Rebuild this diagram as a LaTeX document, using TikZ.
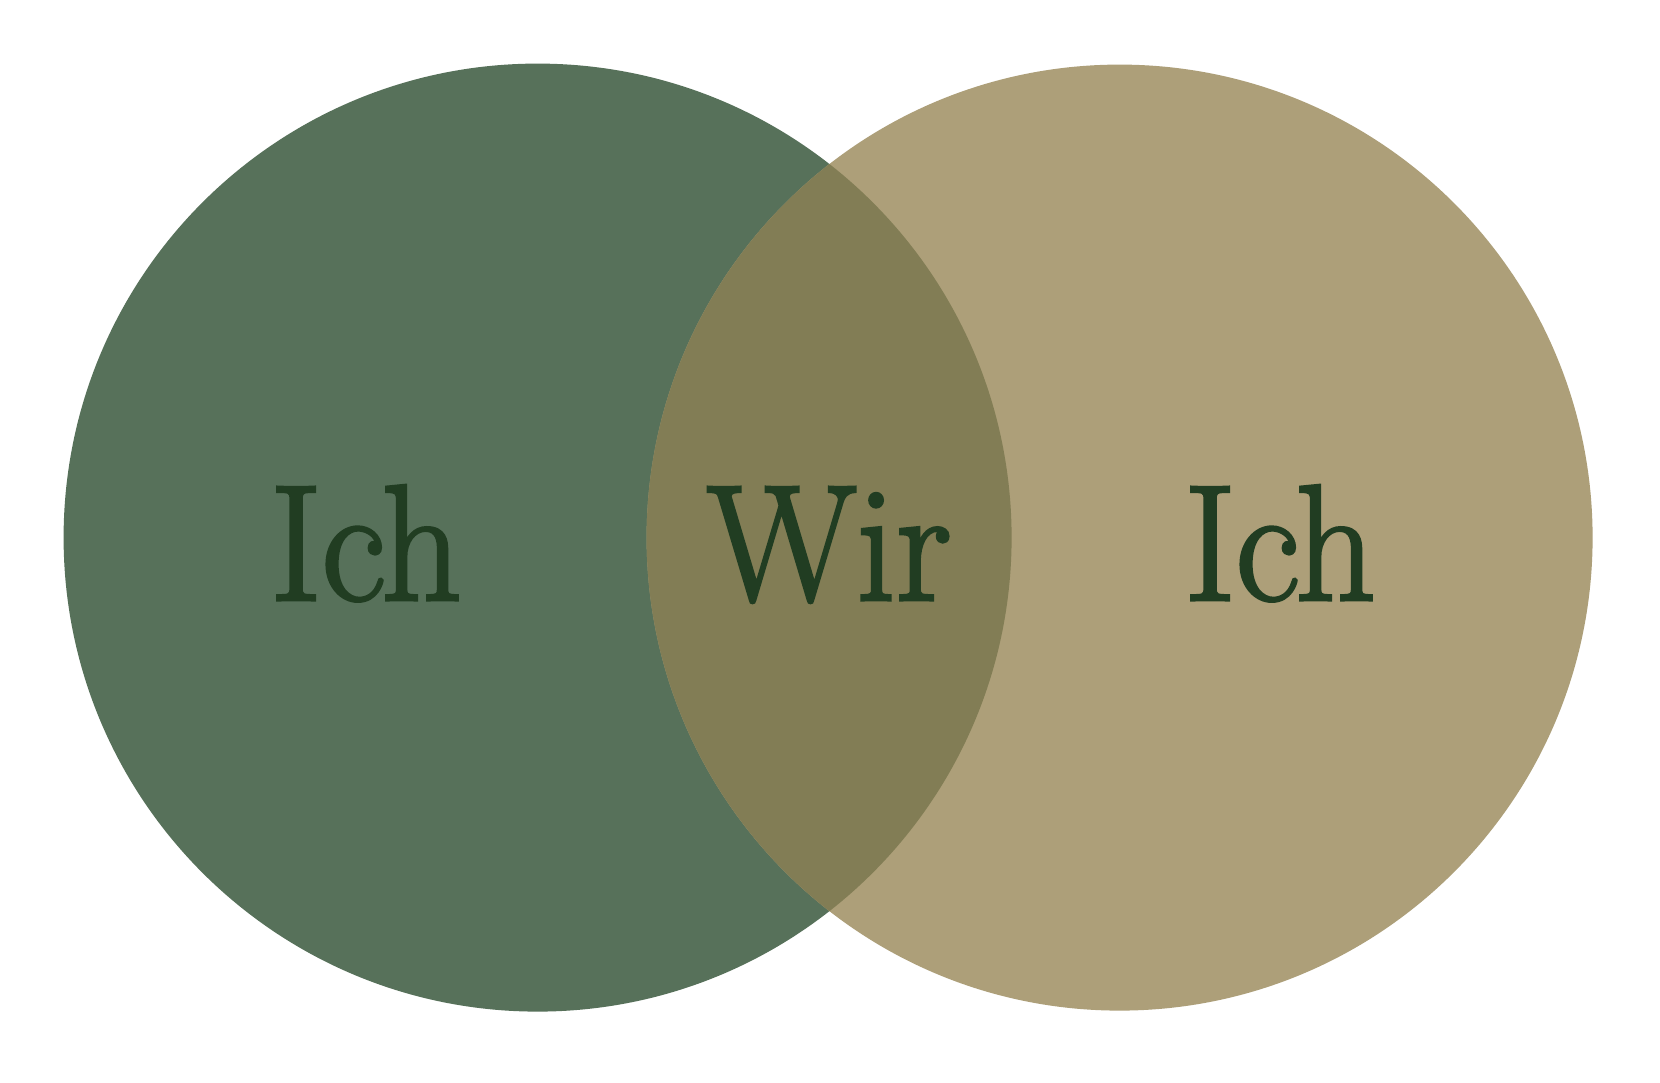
\documentclass[tikz,border=0pt]{standalone}
\usepackage{fontspec}
\newfontfamily\wordfont{lmroman17-regular.otf}[FakeBold=2]
\definecolor{ichgreen}{HTML}{57715A}
\definecolor{ichtan}{HTML}{AD9F79}
\definecolor{wirolive}{HTML}{827D55}
\definecolor{wordgreen}{HTML}{213D22}
\tikzset{word/.style={text=wordgreen, anchor=base, inner sep=0pt, xscale=0.95, transform shape, font=\wordfont\fontsize{47}{47}\selectfont}}
\begin{document}
\begin{tikzpicture}
			%%%%% START %%%%%
			
			\useasboundingbox[fill=white] (0, 0) rectangle (16.6, 10.82);
			
			\draw[fill=ichgreen, draw=none] (5.376, 5.444) circle (4.74);
			\draw[fill=ichtan, draw=none] (11.196, 5.444) circle (4.73);
			
			\begin{scope}
				\clip (5.376, 5.444) circle (4.74);
				\draw[fill=wirolive, draw=none] (11.196, 5.444) circle (4.73);
			\end{scope}
			
			\node[word] (ichleft) at (3.66, 4.82) {Ich};
			\node[word] (wir) at (8.29, 4.82) {Wir};
			\node[word] (ichright) at (12.80, 4.82) {Ich};
			
			%%%%% END %%%%%
\end{tikzpicture}
\end{document}
